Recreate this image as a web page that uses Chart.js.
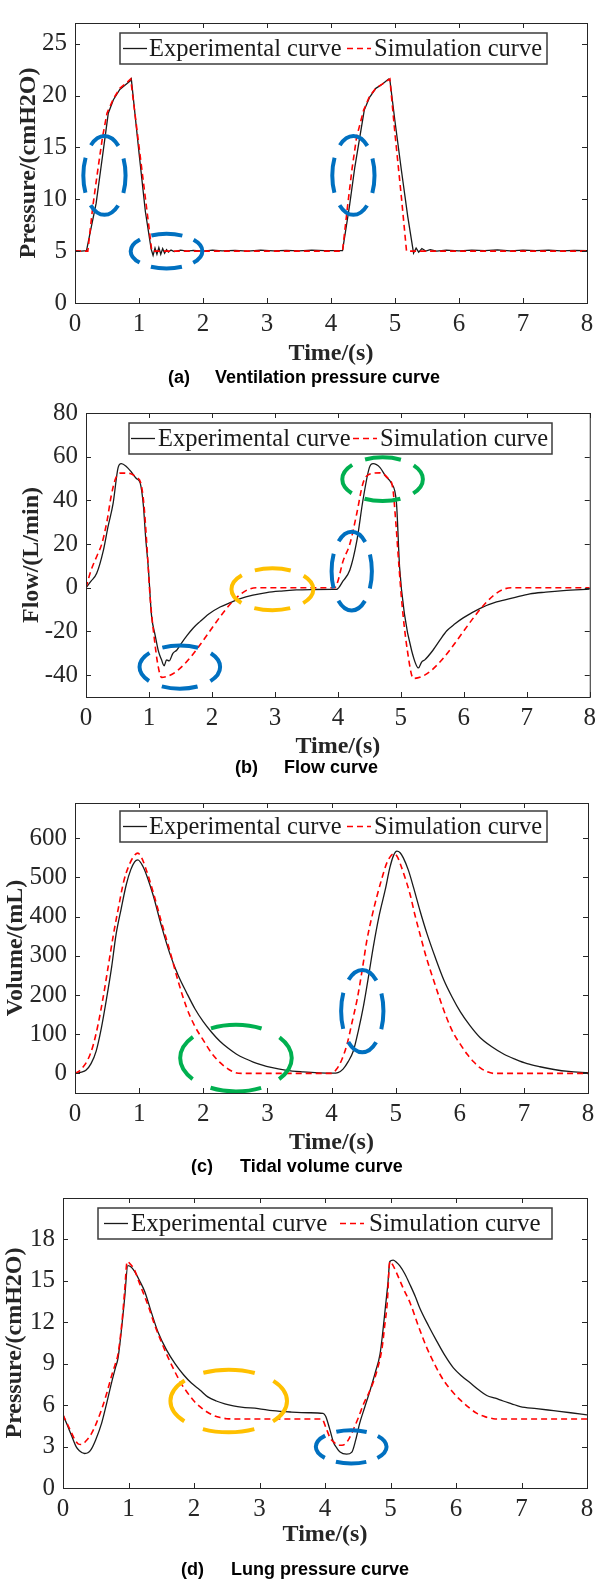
<!DOCTYPE html>
<html>
<head>
<meta charset="utf-8">
<title>Ventilation curves</title>
<script src="https://cdn.jsdelivr.net/npm/chart.js@4.4.1/dist/chart.umd.min.js"></script>
<style>
  html, body { margin: 0; padding: 0; background: #fff; }
  #page { position: relative; width: 602px; height: 1580px; }
  #page canvas { position: absolute; left: 0; }
</style>
</head>
<body>
<div id="page">
  <canvas id="chartA" width="602" height="390" style="top:0px"></canvas>
  <canvas id="chartB" width="602" height="390" style="top:390px"></canvas>
  <canvas id="chartC" width="602" height="395" style="top:780px"></canvas>
  <canvas id="chartD" width="602" height="405" style="top:1175px"></canvas>
</div>
<script>
// series names and tick labels
const seriesNames = ['Experimental curve', 'Simulation curve'];
const timeTicks = [0, 1, 2, 3, 4, 5, 6, 7, 8];
const ventTicks = [0, 5, 10, 15, 20, 25];
const flowTicks = [-40, -20, 0, 20, 40, 60, 80];
const volTicks = [0, 100, 200, 300, 400, 500, 600];
const lungTicks = [0, 3, 6, 9, 12, 15, 18];

// (a) ventilation pressure, [time s, cmH2O]
const ventExp = [[0,5.05],[0.1,5.0],[0.18,5.05],[0.25,7.2],[0.33,9.6],[0.4,12.8],[0.47,16.0],[0.52,18.3],[0.6,19.6],[0.7,20.6],[0.78,21.0],[0.86,21.4],[0.88,21.6],[1.0,14.5],[1.1,8.8],[1.19,5.2],[1.22,4.6],[1.25,5.3],[1.28,4.7],[1.31,5.35],[1.34,4.7],[1.37,5.25],[1.4,4.8],[1.43,5.15],[1.46,4.9],[1.5,5.1],[1.55,4.95],[1.65,5.1],[1.75,5.0],[1.85,5.08],[2.0,5.0],[2.15,5.1],[2.3,5.02],[2.5,5.08],[2.7,5.0],[2.9,5.1],[3.1,5.03],[3.3,5.08],[3.5,5.02],[3.7,5.1],[3.9,5.05],[4.1,5.05],[4.18,5.05],[4.29,9.4],[4.37,13.0],[4.45,16.0],[4.52,18.6],[4.6,19.8],[4.7,20.7],[4.8,21.1],[4.9,21.6],[4.92,21.5],[5.0,17.5],[5.1,12.8],[5.2,8.3],[5.29,4.8],[5.33,5.3],[5.37,4.9],[5.42,5.25],[5.48,5.0],[5.55,5.15],[5.65,5.0],[5.8,5.1],[6.0,5.02],[6.2,5.1],[6.4,5.05],[6.6,5.12],[6.8,5.02],[7.0,5.1],[7.2,5.05],[7.4,5.1],[7.6,5.02],[7.8,5.08],[8.0,5.05]];
const ventSim = [[0,5],[0.2,5],[0.28,9.4],[0.36,13.0],[0.43,16.0],[0.5,18.3],[0.6,19.7],[0.7,20.7],[0.8,21.2],[0.87,21.6],[0.95,17.6],[1.05,12.6],[1.15,7.6],[1.2,5.0],[4.18,5],[4.26,9.4],[4.33,13.0],[4.4,16.0],[4.51,18.6],[4.6,19.9],[4.7,20.7],[4.8,21.1],[4.92,21.6],[5.0,16.3],[5.1,10.2],[5.18,5.0],[8,5]];

// (b) flow, [time s, L/min]
const flowExp = [[0,0],[0.08,3],[0.17,6.6],[0.275,17],[0.35,28],[0.43,38.5],[0.51,55],[0.56,56.8],[0.64,55.5],[0.72,53],[0.8,50],[0.86,48],[0.91,38],[0.95,22],[0.99,9],[1.04,-12.5],[1.1,-22],[1.15,-29],[1.2,-33],[1.24,-35.7],[1.28,-33],[1.32,-33.5],[1.38,-30],[1.44,-28.6],[1.5,-26],[1.6,-22],[1.7,-18.5],[1.81,-15.5],[1.95,-12],[2.13,-8.8],[2.3,-6.7],[2.44,-5.1],[2.65,-3.4],[2.87,-2.2],[3.1,-1.5],[3.34,-1.0],[3.6,-0.8],[3.92,-0.7],[3.98,-0.7],[4.08,3],[4.19,8.1],[4.3,21.3],[4.4,40.4],[4.5,55],[4.56,56.8],[4.67,55],[4.76,51],[4.85,47.8],[4.93,39],[4.98,9.5],[5.06,-12.5],[5.17,-28.6],[5.28,-36.7],[5.33,-34],[5.38,-33],[5.51,-28.6],[5.62,-24],[5.73,-19.7],[5.86,-16.5],[5.99,-13.8],[6.26,-9.4],[6.52,-6.5],[6.8,-4.5],[7.05,-2.8],[7.3,-2],[7.58,-1.3],[8.0,-0.6]];
const flowSim = [[0,0],[0.08,8],[0.18,15],[0.25,20],[0.33,30],[0.4,42],[0.47,50],[0.55,52.5],[0.7,52.3],[0.8,50.5],[0.87,48],[0.92,38],[0.97,18],[1.02,-5],[1.08,-22],[1.14,-35],[1.2,-41],[2.7,0],[3.95,0],[4.0,3],[4.08,12],[4.19,20],[4.3,34],[4.4,48],[4.5,52],[4.67,52.6],[4.8,50],[4.87,46],[4.92,30],[4.97,10],[5.02,-8],[5.1,-28],[5.2,-41.5],[6.75,0],[8,0]];

// (c) tidal volume, [time s, mL]
const volExp = [[0,0],[0.1,3],[0.17,8],[0.25,25],[0.33,57],[0.41,115],[0.49,189],[0.57,270],[0.64,354],[0.72,420],[0.8,482],[0.87,520],[0.93,540],[0.98,545],[1.06,528],[1.14,495],[1.22,454],[1.35,375],[1.48,305],[1.61,250],[1.74,206],[1.87,165],[2.0,132],[2.13,105],[2.26,82],[2.39,64],[2.52,49],[2.65,38],[2.78,29],[2.91,22],[3.04,16],[3.3,8],[3.56,4],[3.8,1.5],[4.02,0.5],[4.1,2],[4.18,11],[4.26,30],[4.34,57],[4.42,110],[4.5,173],[4.58,250],[4.65,321],[4.74,400],[4.84,470],[4.91,525],[4.97,557],[5.02,567],[5.07,563],[5.12,550],[5.2,518],[5.28,474],[5.38,415],[5.49,356],[5.62,295],[5.75,239],[5.88,195],[6.01,157],[6.16,122],[6.32,91],[6.5,68],[6.69,49],[6.87,36],[7.05,25],[7.25,17],[7.47,10],[7.7,5],[8.0,2]];
const volSim = [[0,0],[0.06,5],[0.12,15],[0.2,35],[0.28,70],[0.36,125],[0.44,195],[0.52,275],[0.6,355],[0.68,425],[0.76,490],[0.84,530],[0.92,555],[0.98,562],[1.04,550],[1.12,515],[1.22,462],[1.35,385],[1.48,312],[1.6,240],[1.74,168],[1.87,120],[2.0,85],[2.13,52],[2.26,28],[2.4,10],[2.52,1],[2.6,0],[4.0,0],[4.08,11],[4.16,35],[4.24,73],[4.32,130],[4.4,189],[4.48,265],[4.55,338],[4.63,400],[4.71,453],[4.79,500],[4.86,536],[4.93,556],[4.98,561],[5.03,552],[5.07,536],[5.15,498],[5.23,454],[5.3,405],[5.38,355],[5.48,295],[5.59,239],[5.7,185],[5.8,140],[5.9,103],[6.01,74],[6.12,48],[6.22,29],[6.32,14],[6.43,4],[6.53,0],[8,0]];

// (d) lung pressure, [time s, cmH2O]
const lungExp = [[0,5.3],[0.07,4.5],[0.13,3.8],[0.2,3.0],[0.25,2.7],[0.33,2.5],[0.38,2.55],[0.43,2.8],[0.5,3.5],[0.59,4.7],[0.67,6.2],[0.74,7.6],[0.8,8.7],[0.84,9.4],[0.9,11.8],[0.94,13.7],[0.99,16.1],[1.04,16.0],[1.09,15.7],[1.17,15.0],[1.25,14.2],[1.35,12.7],[1.45,11.3],[1.58,10.0],[1.71,9.0],[1.84,8.2],[1.96,7.6],[2.09,7.1],[2.21,6.6],[2.34,6.3],[2.47,6.1],[2.6,5.95],[2.72,5.85],[2.98,5.75],[3.2,5.6],[3.49,5.5],[3.75,5.45],[3.97,5.4],[4.01,5.2],[4.07,4.3],[4.13,3.3],[4.18,2.9],[4.23,2.6],[4.33,2.45],[4.41,2.6],[4.47,3.5],[4.53,4.7],[4.61,5.9],[4.69,7.1],[4.77,8.4],[4.84,9.7],[4.88,11.2],[4.92,13],[4.96,14.8],[4.99,16.4],[5.04,16.5],[5.09,16.35],[5.14,16.1],[5.22,15.5],[5.3,14.7],[5.38,13.85],[5.45,13.0],[5.58,11.75],[5.71,10.6],[5.83,9.6],[5.96,8.7],[6.09,8.1],[6.22,7.6],[6.35,7.1],[6.47,6.7],[6.6,6.5],[6.72,6.3],[6.85,6.1],[6.98,5.9],[7.23,5.75],[7.49,5.6],[7.75,5.45],[8.0,5.3]];
const lungSim = [[0,5.3],[0.07,4.6],[0.13,4.0],[0.18,3.5],[0.23,3.2],[0.28,3.15],[0.35,3.4],[0.43,3.9],[0.51,4.7],[0.59,5.7],[0.67,6.9],[0.74,8.1],[0.8,9.0],[0.84,9.7],[0.9,12.0],[0.94,14.2],[0.98,16.4],[1.03,16.2],[1.09,15.8],[1.17,14.8],[1.3,13.2],[1.4,11.8],[1.5,10.6],[1.6,9.5],[1.7,8.5],[1.8,7.6],[1.9,6.9],[2.0,6.3],[2.1,5.85],[2.2,5.5],[2.3,5.25],[2.4,5.1],[2.5,5.02],[2.6,5.0],[3.95,5.0],[4.02,4.3],[4.08,3.6],[4.14,3.3],[4.2,3.1],[4.26,3.1],[4.31,3.2],[4.37,3.6],[4.43,4.2],[4.51,5.1],[4.59,6.1],[4.67,6.9],[4.74,7.7],[4.8,8.6],[4.87,10.1],[4.91,11.7],[4.95,13.4],[4.99,16.4],[5.04,16.1],[5.09,15.6],[5.2,14.4],[5.3,13.4],[5.42,11.8],[5.55,10.2],[5.68,8.9],[5.81,7.8],[5.94,7.0],[6.06,6.4],[6.19,5.85],[6.32,5.4],[6.45,5.15],[6.57,5.02],[6.65,5.0],[8,5.0]];

// highlighted regions: [centre t, centre y, half width s, half height]
const ventMarks = [[0.46,12.3,0.33,3.8],[1.43,5.0,0.56,1.67],[4.35,12.3,0.33,3.8]];
const flowMarks = [[1.49,-36.3,0.64,9.9],[2.96,-0.7,0.65,9.6],[4.22,7.6,0.32,18],[4.71,49.7,0.64,10]];
const volMarks = [[2.51,39,0.87,85],[4.48,159,0.33,105]];
const lungMarks = [[2.53,6.3,0.89,2.27],[4.40,2.98,0.54,1.2]];

const BLUE = '#0070c0', GREEN = '#00b050', ORANGE = '#ffc000';

const matlabLook = {
    id: 'matlabLook',
    afterDatasetsDraw(chart, args, o) {
        const ctx = chart.ctx, xs = chart.scales.x, ys = chart.scales.y;
        o.marks.forEach((e, i) => {
            const cx = xs.getPixelForValue(e[0]), cy = ys.getPixelForValue(e[1]);
            const rx = Math.abs(xs.getPixelForValue(e[0] + e[2]) - cx);
            const ry = Math.abs(ys.getPixelForValue(e[1] + e[3]) - cy);
            const p = Math.PI * (3 * (rx + ry) - Math.sqrt((3 * rx + ry) * (rx + 3 * ry)));
            const d = p / 4 * 0.72;
            ctx.save();
            ctx.strokeStyle = o.markColors[i];
            ctx.lineWidth = 4;
            ctx.setLineDash([d, p / 4 - d]);
            ctx.lineDashOffset = d / 2;
            ctx.beginPath();
            ctx.ellipse(cx, cy, rx, ry, 0, 0, Math.PI * 2);
            ctx.stroke();
            ctx.restore();
        });
    },
    afterDraw(chart, args, o) {
        const ctx = chart.ctx, a = chart.chartArea, xs = chart.scales.x, ys = chart.scales.y;
        ctx.save();
        // box + inward ticks on all sides
        ctx.strokeStyle = '#262626';
        ctx.lineWidth = 1;
        ctx.strokeRect(a.left + 0.5, a.top + 0.5, a.width, a.height);
        ctx.beginPath();
        xs.ticks.forEach(t => {
            const px = Math.round(xs.getPixelForValue(t.value)) + 0.5;
            ctx.moveTo(px, a.bottom); ctx.lineTo(px, a.bottom - 5);
            ctx.moveTo(px, a.top); ctx.lineTo(px, a.top + 5);
        });
        ys.ticks.forEach(t => {
            const py = Math.round(ys.getPixelForValue(t.value)) + 0.5;
            ctx.moveTo(a.left, py); ctx.lineTo(a.left + 5, py);
            ctx.moveTo(a.right, py); ctx.lineTo(a.right - 5, py);
        });
        ctx.stroke();

        // axis titles
        ctx.fillStyle = '#262626';
        ctx.font = 'bold 24px "Liberation Serif"';
        ctx.textAlign = 'center';
        ctx.textBaseline = 'middle';
        ctx.fillText('Time/(s)', (a.left + a.right) / 2, a.bottom + o.xTitleGap);
        ctx.save();
        ctx.translate(o.yTitleX, (a.top + a.bottom) / 2);
        ctx.rotate(-Math.PI / 2);
        ctx.fillText(o.yTitle, 0, 0);
        ctx.restore();

        // caption
        ctx.fillStyle = '#000';
        ctx.font = 'bold 18px "Liberation Sans"';
        ctx.textAlign = 'left';
        ctx.fillText(o.caption[0], o.capX[0], a.bottom + o.capGap);
        ctx.fillText(o.caption[1], o.capX[1], a.bottom + o.capGap);

        // legend
        const L = o.legend, ly = a.top + L.dy, mid = ly + L.h / 2;
        ctx.fillStyle = '#fff';
        ctx.fillRect(L.x, ly, L.w, L.h);
        ctx.strokeStyle = '#3c3c3c';
        ctx.lineWidth = 1.5;
        ctx.strokeRect(L.x, ly, L.w, L.h);
        ctx.font = L.size + 'px "Liberation Serif"';
        ctx.fillStyle = '#1a1a1a';
        chart.data.datasets.forEach((ds, i) => {
            const sx = L.x + L.pos[i * 2], tx = L.x + L.pos[i * 2 + 1];
            ctx.strokeStyle = ds.borderColor;
            ctx.lineWidth = ds.borderWidth;
            ctx.setLineDash(ds.borderDash || []);
            ctx.beginPath(); ctx.moveTo(sx, mid); ctx.lineTo(sx + 24, mid); ctx.stroke();
            ctx.setLineDash([]);
            ctx.fillText(ds.label, tx, mid + 1);
        });
        ctx.restore();
    }
};

const toXY = pts => pts.map(p => ({ x: p[0], y: p[1] }));

function chard(id, c) {
    const tickFont = { family: '"Liberation Serif"', size: 25 };
    return new Chart(document.getElementById(id).getContext('2d'), {
        type: 'scatter',
        data: {
            datasets: [{
                label: seriesNames[0], data: toXY(c.exp), showLine: true,
                borderColor: '#1a1a1a', borderWidth: 1.3, pointRadius: 0, order: 2,
                cubicInterpolationMode: c.smooth ? 'monotone' : 'default', tension: 0
            }, {
                label: seriesNames[1], data: toXY(c.sim), showLine: true,
                borderColor: '#ff0000', borderWidth: 1.6, borderDash: [6, 4], pointRadius: 0, order: 1,
                cubicInterpolationMode: c.smooth ? 'monotone' : 'default', tension: 0
            }]
        },
        options: {
            responsive: false, animation: false, devicePixelRatio: 1,
            layout: { padding: { top: c.top, right: c.right, left: 0, bottom: 0 } },
            scales: {
                x: {
                    type: 'linear', min: 0, max: 8,
                    afterBuildTicks: s => { s.ticks = timeTicks.map(v => ({ value: v })); },
                    afterFit: s => { s.height = c.xh; },
                    grid: { display: false, drawTicks: false }, border: { display: false },
                    ticks: { font: tickFont, color: '#262626', padding: 6, maxRotation: 0, autoSkip: false }
                },
                y: {
                    type: 'linear', min: c.min, max: c.max,
                    afterBuildTicks: s => { s.ticks = c.ticks.map(v => ({ value: v })); },
                    afterFit: s => { s.width = c.left; },
                    grid: { display: false, drawTicks: false }, border: { display: false },
                    ticks: { font: tickFont, color: '#262626', padding: 8, autoSkip: false }
                }
            },
            plugins: {
                legend: { display: false }, tooltip: { enabled: false },
                matlabLook: {
                    marks: c.marks, markColors: c.markColors, yTitle: c.yTitle, yTitleX: c.yTitleX,
                    xTitleGap: c.xTitleGap, caption: c.caption, capX: c.capX, capGap: c.capGap, legend: c.legend
                }
            }
        },
        plugins: [matlabLook]
    });
}

document.addEventListener('DOMContentLoaded', function() {
    chard('chartA', {
        exp: ventExp, sim: ventSim, smooth: false, min: 0, max: 27, ticks: ventTicks,
        top: 7, right: 15, left: 75, xh: 87,
        marks: ventMarks, markColors: [BLUE, BLUE, BLUE],
        yTitle: 'Pressure/(cmH2O)', yTitleX: 29, xTitleGap: 51,
        caption: ['(a)', 'Ventilation pressure curve'], capX: [168, 215], capGap: 75,
        legend: { x: 120, dy: 10, w: 427, h: 31, size: 24.5, pos: [3, 29, 227, 254] }
    });
    chard('chartB', {
        exp: flowExp, sim: flowSim, smooth: true, min: -50, max: 80, ticks: flowTicks,
        top: 12, right: 12, left: 86, xh: 83,
        marks: flowMarks, markColors: [BLUE, ORANGE, BLUE, GREEN],
        yTitle: 'Flow/(L/min)', yTitleX: 32, xTitleGap: 50,
        caption: ['(b)', 'Flow curve'], capX: [235, 284], capGap: 71,
        legend: { x: 129, dy: 10, w: 423, h: 31, size: 24.5, pos: [2, 29, 224, 251] }
    });
    chard('chartC', {
        exp: volExp, sim: volSim, smooth: true, min: -50, max: 690, ticks: volTicks,
        top: 15, right: 14, left: 75, xh: 82,
        marks: volMarks, markColors: [GREEN, BLUE],
        yTitle: 'Volume/(mL)', yTitleX: 16, xTitleGap: 50,
        caption: ['(c)', 'Tidal volume curve'], capX: [191, 240], capGap: 74,
        legend: { x: 120, dy: 8, w: 427, h: 31, size: 24.5, pos: [3, 29, 227, 254] }
    });
    chard('chartD', {
        exp: lungExp, sim: lungSim, smooth: true, min: 0, max: 21, ticks: lungTicks,
        top: 17, right: 15, left: 63, xh: 92,
        marks: lungMarks, markColors: [ORANGE, BLUE],
        yTitle: 'Pressure/(cmH2O)', yTitleX: 15, xTitleGap: 47,
        caption: ['(d)', 'Lung pressure curve'], capX: [181, 231], capGap: 82,
        legend: { x: 98, dy: 10, w: 454, h: 31, size: 25, pos: [6, 33, 242, 271] }
    });
});
</script>
</body>
</html>
